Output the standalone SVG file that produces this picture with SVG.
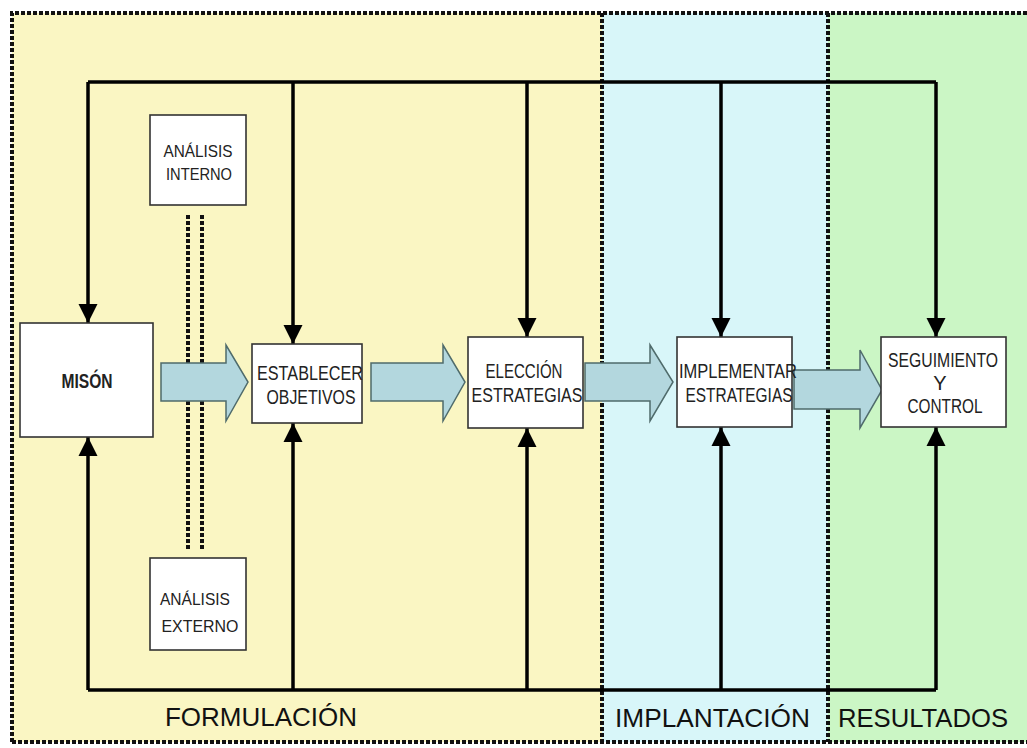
<svg xmlns="http://www.w3.org/2000/svg" width="1027" height="748" viewBox="0 0 1027 748">
<style>
.bg-y{fill:#faf6c3}.bg-c{fill:#d8f6f9}.bg-g{fill:#cbf6c5}
.dot{fill:none;stroke:#111;stroke-width:4;stroke-dasharray:4 2}
.box{fill:#fff;stroke:#333;stroke-width:1.6}
.t{font-family:"Liberation Sans",Arial,sans-serif;font-size:20px;fill:#222;text-anchor:middle}
.ts{font-family:"Liberation Sans",Arial,sans-serif;font-size:17px;fill:#222;text-anchor:middle}
.lab{font-family:"Liberation Sans",Arial,sans-serif;font-size:26px;fill:#111}
.con{fill:none;stroke:#000;stroke-width:3.5}
.blk{fill:#b3d7de;stroke:#4f6b6b;stroke-width:1.5}
</style>
<defs>
<marker id="ah" viewBox="0 0 10 10" refX="10" refY="5" markerWidth="19" markerHeight="20" markerUnits="userSpaceOnUse" orient="auto">
<path d="M0,0 L10,5 L0,10 z" fill="#000"/>
</marker>
</defs>
<rect width="1027" height="748" fill="#fff"/>
<g id="zones">
<rect class="bg-y" x="12" y="13" width="590" height="729"/>
<rect class="bg-c" x="602" y="13" width="226" height="729"/>
<rect class="bg-g" x="828" y="13" width="205" height="729"/>
<path class="dot" d="M12,742 L12,13 L1032,13 M12,742 L1032,742 M602,13 L602,742 M828,13 L828,742"/>
<path class="dot" d="M188,215 L188,551 M202,215 L202,551"/>
</g>
<g id="connectors">
<path class="con" d="M88,82 L936,82"/>
<path class="con" d="M88,690 L936,690"/>
<path class="con" marker-end="url(#ah)" d="M88,82 L88,323"/>
<path class="con" marker-end="url(#ah)" d="M293,82 L293,344"/>
<path class="con" marker-end="url(#ah)" d="M527,82 L527,337"/>
<path class="con" marker-end="url(#ah)" d="M721,82 L721,337"/>
<path class="con" marker-end="url(#ah)" d="M936,82 L936,337"/>
<path class="con" marker-end="url(#ah)" d="M88,690 L88,437"/>
<path class="con" marker-end="url(#ah)" d="M293,690 L293,423"/>
<path class="con" marker-end="url(#ah)" d="M527,690 L527,428"/>
<path class="con" marker-end="url(#ah)" d="M721,690 L721,427"/>
<path class="con" marker-end="url(#ah)" d="M936,690 L936,427"/>
<path class="blk" d="M161,363 L226,363 L226,345 L248,382 L226,421 L226,401 L161,401 Z"/>
<path class="blk" d="M371,363 L443,363 L443,345 L465,382 L443,421 L443,401 L371,401 Z"/>
<path class="blk" d="M585,363 L650,363 L650,345 L673,382 L650,421 L650,401 L585,401 Z"/>
<path class="blk" d="M794,370 L860,370 L860,350 L882,390 L860,428 L860,409 L794,409 Z"/>
</g>
<g id="mision">
<rect class="box" x="20" y="323" width="133" height="114"/>
<text class="t" x="87" y="388" font-weight="bold" font-size="18" textLength="51" lengthAdjust="spacingAndGlyphs">MISÓN</text>
</g>
<g id="analisis-interno">
<rect class="box" x="150" y="115" width="96" height="90"/>
<text class="ts" x="198" y="157" textLength="69" lengthAdjust="spacingAndGlyphs">ANÁLISIS</text>
<text class="ts" x="199" y="180" textLength="66" lengthAdjust="spacingAndGlyphs">INTERNO</text>
</g>
<g id="analisis-externo">
<rect class="box" x="150" y="558" width="96" height="92"/>
<text class="ts" x="195" y="605" textLength="70" lengthAdjust="spacingAndGlyphs">ANÁLISIS</text>
<text class="ts" x="200" y="632" textLength="77" lengthAdjust="spacingAndGlyphs">EXTERNO</text>
</g>
<g id="establecer">
<rect class="box" x="252" y="344" width="110" height="79"/>
<text class="t" x="310" y="380" textLength="106" lengthAdjust="spacingAndGlyphs">ESTABLECER</text>
<text class="t" x="311" y="404" textLength="89" lengthAdjust="spacingAndGlyphs">OBJETIVOS</text>
</g>
<g id="eleccion">
<rect class="box" x="468" y="337" width="115" height="91"/>
<text class="t" x="524" y="378" textLength="77" lengthAdjust="spacingAndGlyphs">ELECCIÓN</text>
<text class="t" x="527" y="402" textLength="111" lengthAdjust="spacingAndGlyphs">ESTRATEGIAS</text>
</g>
<g id="implementar">
<rect class="box" x="677" y="337" width="115" height="90"/>
<text class="t" x="738" y="378" textLength="118" lengthAdjust="spacingAndGlyphs">IMPLEMENTAR</text>
<text class="t" x="739" y="402" textLength="107" lengthAdjust="spacingAndGlyphs">ESTRATEGIAS</text>
</g>
<g id="seguimiento">
<rect class="box" x="881" y="337" width="125" height="90"/>
<text class="t" x="943" y="367" textLength="110" lengthAdjust="spacingAndGlyphs">SEGUIMIENTO</text>
<text class="t" x="940" y="390">Y</text>
<text class="t" x="945" y="413" textLength="75" lengthAdjust="spacingAndGlyphs">CONTROL</text>
</g>
<g id="labels">
<text class="lab" x="165" y="726" textLength="192" lengthAdjust="spacingAndGlyphs">FORMULACIÓN</text>
<text class="lab" x="615" y="727" textLength="195" lengthAdjust="spacingAndGlyphs">IMPLANTACIÓN</text>
<text class="lab" x="838" y="727" textLength="170" lengthAdjust="spacingAndGlyphs">RESULTADOS</text>
</g>
</svg>
